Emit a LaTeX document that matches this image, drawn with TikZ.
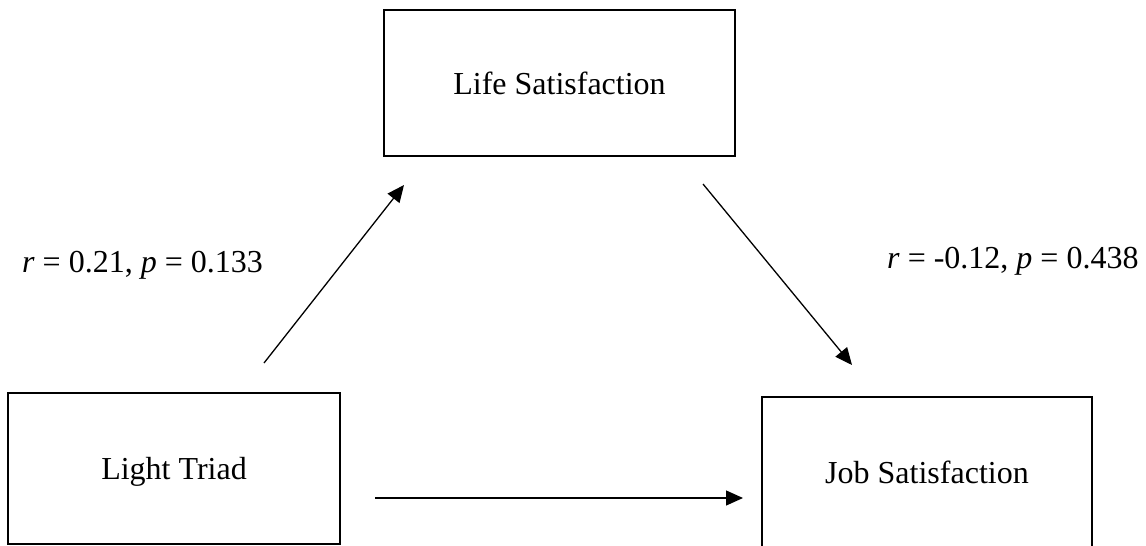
\documentclass[tikz,border=0pt]{standalone}
\usepackage{fontspec}
\setmainfont{Liberation Serif}
\usetikzlibrary{arrows.meta}
\begin{document}
\begin{tikzpicture}[x=1pt,y=-1pt,
  box/.style={draw=black, line width=2.6pt, fill=white, inner sep=0pt,
    font=\fontsize{32}{38}\selectfont, text height=22pt, text depth=0pt},
  arr/.style={line width=1.3pt, -{Triangle[length=17pt,width=15pt]}},
  lab/.style={anchor=base west, inner sep=0pt, font=\fontsize{32}{38}\selectfont}]
\useasboundingbox (0,0) rectangle (1146,546);
\clip (0,0) rectangle (1146,546);
\fill[white] (0,0) rectangle (1146,546);
\node[box, minimum width=351pt, minimum height=146pt] (life) at (559.5,83) {Life Satisfaction};
\node[box, minimum width=332pt, minimum height=151pt] (light) at (174,468.5) {Light Triad};
\node[box, minimum width=330pt, minimum height=170pt, text depth=20pt] (job) at (927,482) {Job Satisfaction};
\coordinate (a1s) at (264,363);
\coordinate (a1e) at (404,185);
\coordinate (a2s) at (703,184);
\coordinate (a2e) at (852,365);
\coordinate (a3s) at (375,498);
\coordinate (a3e) at (743,498);
\draw[arr] (a1s) -- (a1e);
\draw[arr] (a2s) -- (a2e);
\draw[arr] (a3s) -- (a3e);
\node[lab] (r1) at (22,272) {\textit{r} = 0.21, \textit{p} = 0.133};
\node[lab] (r2) at (887,268) {\textit{r} = -0.12, \textit{p} = 0.438};
\end{tikzpicture}
\end{document}
